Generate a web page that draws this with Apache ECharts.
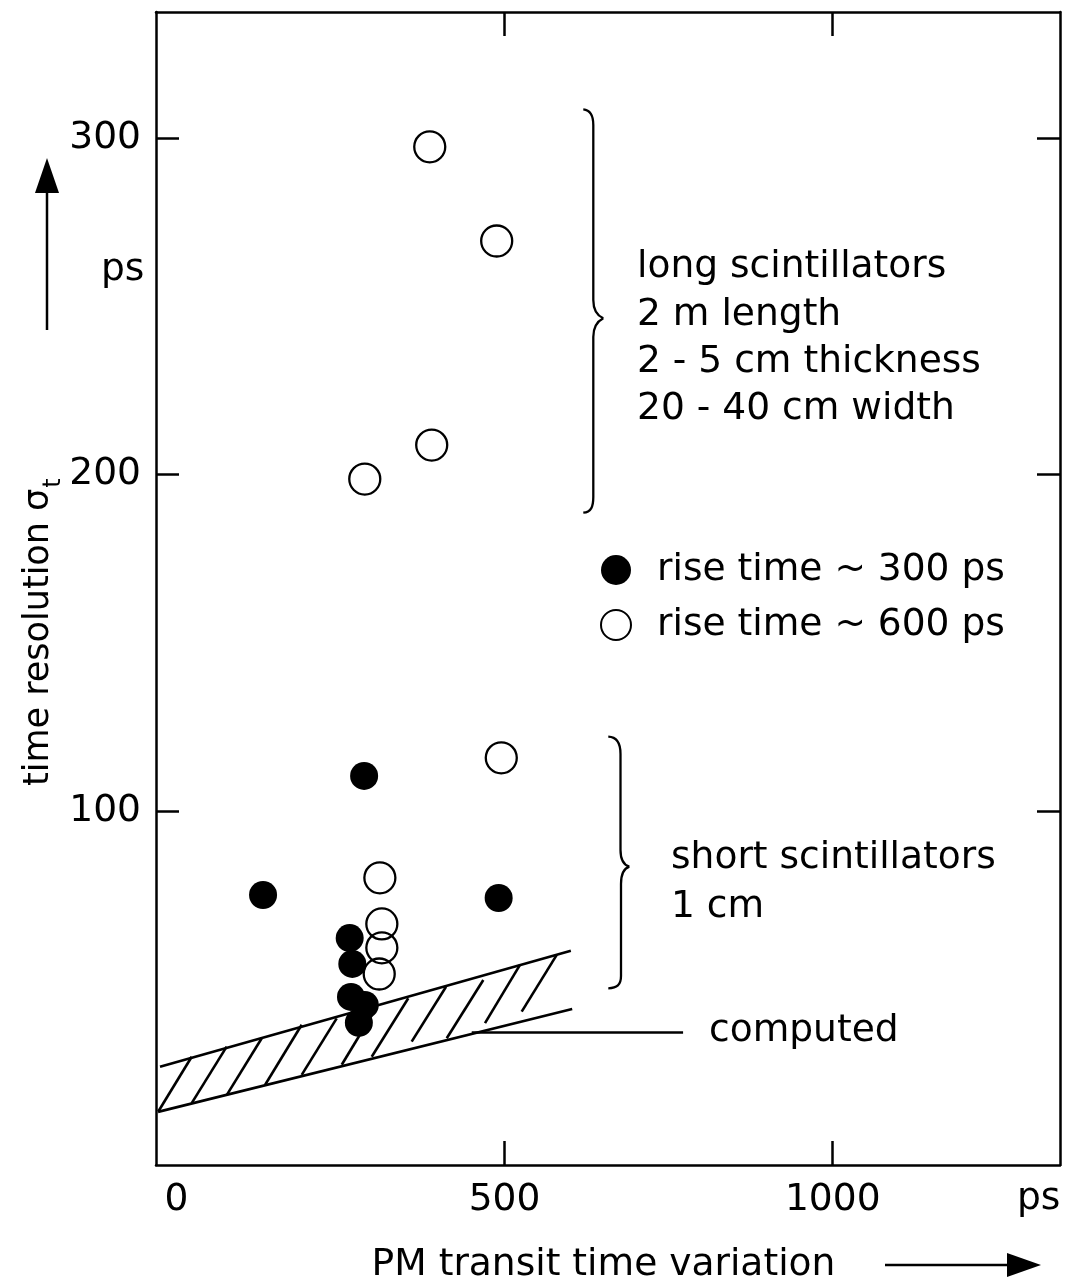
<!DOCTYPE html>
<html><head><meta charset="utf-8">
<script src="https://cdn.jsdelivr.net/npm/echarts/dist/echarts.min.js"></script>
<style>html,body{margin:0;padding:0;background:#fff}#c{width:1068px;height:1283px}</style>
</head><body><div id="c"></div>
<script>
// ---- data ----
const xTickValues = [500, 1000];
const xLabelValues = [0, 500, 1000];
const yTickValues = [100, 200, 300];
const yLabelValues = [100, 200, 300];
const seriesNames = ['rise time ~ 300 ps', 'rise time ~ 600 ps'];
// filled circles: rise time ~300 ps  [PM transit time variation (ps), sigma_t (ps)]
const riseTime300 = [[286, 110.4], [132, 75.0], [491, 74.1], [264, 62.2], [268, 54.5], [266, 44.7], [287, 42.3], [278, 37.0]];
// open circles: rise time ~600 ps
const riseTime600 = [[386, 297.5], [488, 269.5], [389, 208.8], [287, 198.7], [495, 115.8], [310, 80.1], [313, 66.4], [313, 59.3], [309, 51.5]];
// computed band (edges)
const computedUpper = [[-25, 23.9], [601, 58.4]];
const computedLower = [[-28, 10.5], [603, 41.1]];
// hatch strokes inside the computed band [x1, y1, x2, y2]
const computedHatch = [
  [-27.6, 10.6, 23.3, 26.9], [23.3, 13.1, 76.6, 29.9], [76.6, 15.5, 130.0, 32.4],
  [135.0, 18.5, 190.9, 36.4], [190.9, 21.5, 244.2, 38.3], [251.9, 24.5, 305.2, 41.7],
  [297.6, 26.9, 353.3, 44.3], [358.5, 31.4, 410.8, 47.7], [411.9, 32.4, 467.6, 49.7],
  [470.2, 36.9, 523.5, 54.2], [526.1, 40.3, 579.5, 57.2]
];
// pointer line to the "computed" label
const computedPointer = [[450, 34.3], [772, 34.3]];

// ---- chart ----
const FONT = 'DejaVu Sans';
const FS = 37.6;
const chart = echarts.init(document.getElementById('c'), null, {renderer: 'canvas'});
const black = '#000';
const xMin = -31.1, xMax = 1346.3, yMin = -5.3, yMax = 337.6;
const plain = v => String(v);

function xAxisCfg(pos, labels) {
  return {
    type: 'value', position: pos, min: xMin, max: xMax,
    axisLine: {show: true, onZero: false, lineStyle: {color: black, width: 2.5}},
    axisTick: {show: true, inside: true, length: 24, customValues: xTickValues, lineStyle: {color: black, width: 2.5}},
    axisLabel: labels ? {show: true, customValues: xLabelValues, formatter: plain, fontSize: FS, fontFamily: FONT, color: black, margin: 16} : {show: false},
    splitLine: {show: false}
  };
}
function yAxisCfg(pos, labels) {
  return {
    type: 'value', position: pos, min: yMin, max: yMax,
    axisLine: {show: true, onZero: false, lineStyle: {color: black, width: 2.5}},
    axisTick: {show: true, inside: true, length: 23, customValues: yTickValues, lineStyle: {color: black, width: 2.5}},
    axisLabel: labels ? {show: true, customValues: yLabelValues, formatter: plain, fontSize: FS, fontFamily: FONT, color: black, margin: 15} : {show: false},
    splitLine: {show: false}
  };
}
function seg(a, b) { return {coords: [a, b]}; }
const lineStyle = {color: black, width: 2.6, opacity: 1, curveness: 0};
const txt = (x, y, text, extra) => ({
  type: 'text', x: x, y: y, silent: true,
  style: Object.assign({text: text, fontSize: FS, fontFamily: FONT, fill: black, verticalAlign: 'middle'}, extra || {})
});
const bez = (p) => ({type: 'bezierCurve', silent: true,
  shape: {x1: p[0], y1: p[1], cpx1: p[2], cpy1: p[3], cpx2: p[4], cpy2: p[5], x2: p[6], y2: p[7]},
  style: {stroke: black, lineWidth: 2.3, fill: null}});
const ln = (x1, y1, x2, y2, w) => ({type: 'line', silent: true, shape: {x1, y1, x2, y2}, style: {stroke: black, lineWidth: w || 2.3}});

const option = {
  animation: false,
  backgroundColor: '#fff',
  grid: {left: 156, right: 8, top: 12, bottom: 118, containLabel: false, outerBoundsMode: 'none'},
  xAxis: [xAxisCfg('bottom', true), xAxisCfg('top', false)],
  yAxis: [yAxisCfg('left', true), yAxisCfg('right', false)],
  legend: {
    data: seriesNames, orient: 'vertical', left: 600, top: 551, padding: 0,
    itemWidth: 30, itemHeight: 30, itemGap: 17, selectedMode: false,
    textStyle: {fontSize: FS, fontFamily: FONT, color: black, padding: [0, 0, 0, 21]}
  },
  series: [
    {type: 'lines', coordinateSystem: 'cartesian2d', xAxisIndex: 0, yAxisIndex: 0, silent: true, z: 2,
     lineStyle: lineStyle, data: [seg(computedUpper[0], computedUpper[1]), seg(computedLower[0], computedLower[1])]},
    {type: 'lines', coordinateSystem: 'cartesian2d', xAxisIndex: 0, yAxisIndex: 0, silent: true, z: 2,
     lineStyle: lineStyle, data: computedHatch.map(h => seg([h[0], h[1]], [h[2], h[3]]))},
    {type: 'lines', coordinateSystem: 'cartesian2d', xAxisIndex: 0, yAxisIndex: 0, silent: true, z: 2,
     lineStyle: lineStyle, data: [seg(computedPointer[0], computedPointer[1])]},
    {name: seriesNames[0], type: 'scatter', xAxisIndex: 0, yAxisIndex: 0, z: 5, symbol: 'circle', symbolSize: 28,
     itemStyle: {color: black, opacity: 1}, data: riseTime300},
    {name: seriesNames[1], type: 'scatter', xAxisIndex: 0, yAxisIndex: 0, z: 5, symbol: 'circle', symbolSize: 31,
     itemStyle: {color: 'rgba(255,255,255,0)', borderColor: black, borderWidth: 2.3, opacity: 1}, data: riseTime600}
  ],
  graphic: [
    txt(637, 244, 'long scintillators\n2 m length\n2 - 5 cm thickness\n20 - 40 cm width', {verticalAlign: 'top', lineHeight: 47.3}),
    txt(671, 834, 'short scintillators\n1 cm', {verticalAlign: 'top', lineHeight: 48.5}),
    txt(709, 1031, 'computed'),
    txt(101, 270, 'ps'),
    txt(1017, 1199, 'ps'),
    txt(603.5, 1265, 'PM transit time variation', {align: 'center'}),
    Object.assign(txt(39, 786, 'time resolution σ', {align: 'left', fontSize: 35}), {rotation: Math.PI / 2}),
    Object.assign(txt(54, 483, 't', {fontSize: 24, align: 'center'}), {rotation: Math.PI / 2}),
    // long brace
    bez([583.3, 109.3, 591, 110, 593.3, 116, 593.3, 125]),
    ln(593.3, 125, 593.3, 300),
    bez([593.3, 300, 593.3, 311, 598, 316, 603.3, 318.3]),
    bez([603.3, 318.3, 598, 321, 593.3, 326, 593.3, 337]),
    ln(593.3, 337, 593.3, 497),
    bez([593.3, 497, 593.3, 507, 591, 512, 583.3, 512.7]),
    // short brace
    bez([608.3, 736.7, 617, 737, 620.5, 744, 620.5, 754]),
    ln(620.5, 754, 620.5, 850),
    bez([620.5, 850, 620.5, 861, 624, 865, 629.3, 866.7]),
    bez([629.3, 866.7, 624, 868.5, 621, 873, 621, 884]),
    ln(621, 884, 621, 976),
    bez([621, 976, 621, 985, 617, 988, 608.3, 988.3]),
    // axis arrows
    ln(47, 330, 47, 185, 2.5),
    {type: 'polygon', silent: true, shape: {points: [[47, 158], [35, 193], [59, 193]]}, style: {fill: black}},
    ln(885, 1265, 1015, 1265, 2.5),
    {type: 'polygon', silent: true, shape: {points: [[1041, 1265], [1007, 1253], [1007, 1277]]}, style: {fill: black}}
  ]
};
chart.setOption(option);
</script>
</body></html>
